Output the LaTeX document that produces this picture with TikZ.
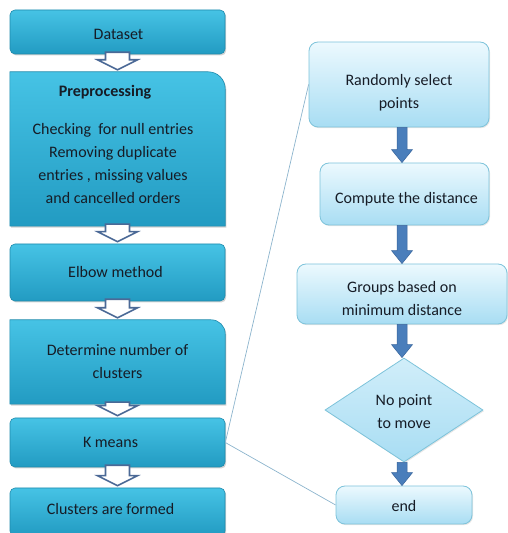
\documentclass[tikz,border=0pt]{standalone}
\usepackage{fontspec}
\setmainfont{Carlito}
\usetikzlibrary{shapes.geometric,shadows,calc,backgrounds}
\definecolor{ltop}{RGB}{70,195,229}
\definecolor{lbot}{RGB}{34,155,194}
\definecolor{lborder}{RGB}{30,138,172}
\definecolor{rtop}{RGB}{236,249,254}
\definecolor{rbot}{RGB}{168,221,243}
\definecolor{rborder}{RGB}{125,195,218}
\definecolor{arrowblue}{RGB}{74,126,187}
\definecolor{arrowedge}{RGB}{55,100,155}
\definecolor{harrowcol}{RGB}{75,105,150}
\definecolor{thinline}{RGB}{140,180,205}
\definecolor{txt}{RGB}{22,28,38}
% shift node text by (dx, down) without changing the node's size
\newcommand\mvtext[3]{\begingroup
  \setbox0=\hbox{\begin{tabular}{@{}c@{}}#3\end{tabular}}%
  \dimen0=\ht0 \dimen2=\dp0 \dimen4=\wd0
  \setbox2=\hbox{\hskip#1\lower#2\box0}%
  \ht2=\dimen0 \dp2=\dimen2 \wd2=\dimen4
  \box2\endgroup}
\newcommand\hollowarr[2]{%
  \draw[harrow] ($(#1)+(-12,2)$) -- ($(#2)+(-12,12)$) -- ($(#2)+(-20,12)$) -- ($(#2)+(0,2)$)
    -- ($(#2)+(20,12)$) -- ($(#2)+(12,12)$) -- ($(#1)+(12,2)$) -- cycle;}
\newcommand\solidarr[2]{%
  \coordinate (sa) at (#1 -| colR);
  \coordinate (sb) at (#2 -| colR);
  \filldraw[sarrow] ($(sa)+(-5,0)$) -- ($(sb)+(-5,13)$) -- ($(sb)+(-10.5,13)$) -- (sb)
    -- ($(sb)+(10.5,13)$) -- ($(sb)+(5,13)$) -- ($(sa)+(5,0)$) -- cycle;}
\begin{document}
\begin{tikzpicture}[x=1pt,y=1pt,
  every node/.style={font=\fontsize{16}{23}\selectfont, text=txt},
  lbox/.style={draw=lborder, line width=0.6pt, top color=ltop, bottom color=lbot,
    rounded corners=5pt, minimum width=215pt, inner sep=0pt, align=center,
    drop shadow={shadow xshift=1.2pt, shadow yshift=-1.5pt, opacity=0.35}},
  lframe/.style={minimum width=215pt, inner sep=0pt, align=center},
  lshape/.style={draw=lborder, line width=0.6pt, top color=ltop, bottom color=lbot,
    drop shadow={shadow xshift=1.2pt, shadow yshift=-1.5pt, opacity=0.35}},
  rbox/.style={draw=rborder, line width=0.8pt, top color=rtop, bottom color=rbot,
    rounded corners=9pt, inner sep=0pt, align=center,
    drop shadow={shadow xshift=1pt, shadow yshift=-1.2pt, opacity=0.2}},
  dbox/.style={diamond, draw=rborder, line width=0.8pt, top color=rtop!60!rbot, bottom color=rbot,
    inner sep=0pt, align=center,
    drop shadow={shadow xshift=1pt, shadow yshift=-1.2pt, opacity=0.2}},
  harrow/.style={draw=harrowcol, fill=white, line width=1.6pt, line join=miter},
  sarrow/.style={fill=arrowblue, draw=arrowedge, line width=0.5pt},
  thinconn/.style={draw=thinline, line width=0.7pt}
]
\useasboundingbox (0,0) rectangle (508,533);
\coordinate (colR) at (402,0);

% left column
\node[lbox, minimum height=44pt] (dataset) at (117.5,501) {\mvtext{1pt}{3pt}{Dataset}};
\node[lframe, minimum height=154pt] (pre) at (117.5,384) {};
\node[font=\fontsize{16}{23}\selectfont\bfseries] (pretitle) at ($(pre.center)+(-12.5,57)$) {Preprocessing};
\node[align=center] (prebody) at ($(pre.center)+(-4.5,-14.5)$)
  {Checking\ \ for null entries\\Removing duplicate\\entries , missing values\\and cancelled orders};
\node[lbox, minimum height=57pt] (elbow) at (117.5,260.5) {\mvtext{-2pt}{0pt}{Elbow method}};
\node[lframe, minimum height=84pt] (det) at (117.5,171) {Determine number of\\clusters};
\node[lbox, minimum height=49pt] (kmeans) at (117.5,90.5) {\mvtext{-7pt}{0pt}{K means}};
\node[lbox, minimum height=48pt] (clusters) at (117.5,21) {\mvtext{-7pt}{-2pt}{Clusters are formed}};

\begin{scope}[on background layer]
  \path[lshape] (pre.south west) -- (pre.north west) -- ([xshift=-17pt]pre.north east)
    arc[start angle=90, end angle=0, radius=17pt] -- (pre.south east) -- cycle;
  \path[lshape] (det.south west) -- (det.north west) -- ([xshift=-14pt]det.north east)
    arc[start angle=90, end angle=0, radius=14pt] -- (det.south east) -- cycle;
\end{scope}

\hollowarr{dataset.south}{pre.north}
\hollowarr{pre.south}{elbow.north}
\hollowarr{elbow.south}{det.north}
\hollowarr{det.south}{kmeans.north}
\hollowarr{kmeans.south}{clusters.north}

% right column
\node[rbox, minimum width=180pt, minimum height=85pt] (rand) at (399,448.5) {\mvtext{0pt}{8pt}{Randomly select\\points}};
\node[rbox, minimum width=169pt, minimum height=62pt] (comp) at (404.5,339) {\mvtext{2pt}{5pt}{Compute the distance}};
\node[rbox, minimum width=210pt, minimum height=60pt] (groups) at (402,239) {\mvtext{0pt}{5pt}{Groups based on\\minimum distance}};
\node[dbox, minimum width=158pt, minimum height=104pt] (dec) at (404,123) {\mvtext{0pt}{2pt}{No point\\to move}};
\node[rbox, minimum width=136pt, minimum height=38pt] (end) at (404,28) {\mvtext{0pt}{2pt}{end}};

\solidarr{rand.south}{comp.north}
\solidarr{comp.south}{groups.north}
\solidarr{groups.south}{dec.north}
\solidarr{dec.south}{end.north}

% thin connectors
\draw[thinconn] (kmeans.east) -- (rand.west);
\draw[thinconn] (kmeans.east) -- (end.west);
\end{tikzpicture}
\end{document}
